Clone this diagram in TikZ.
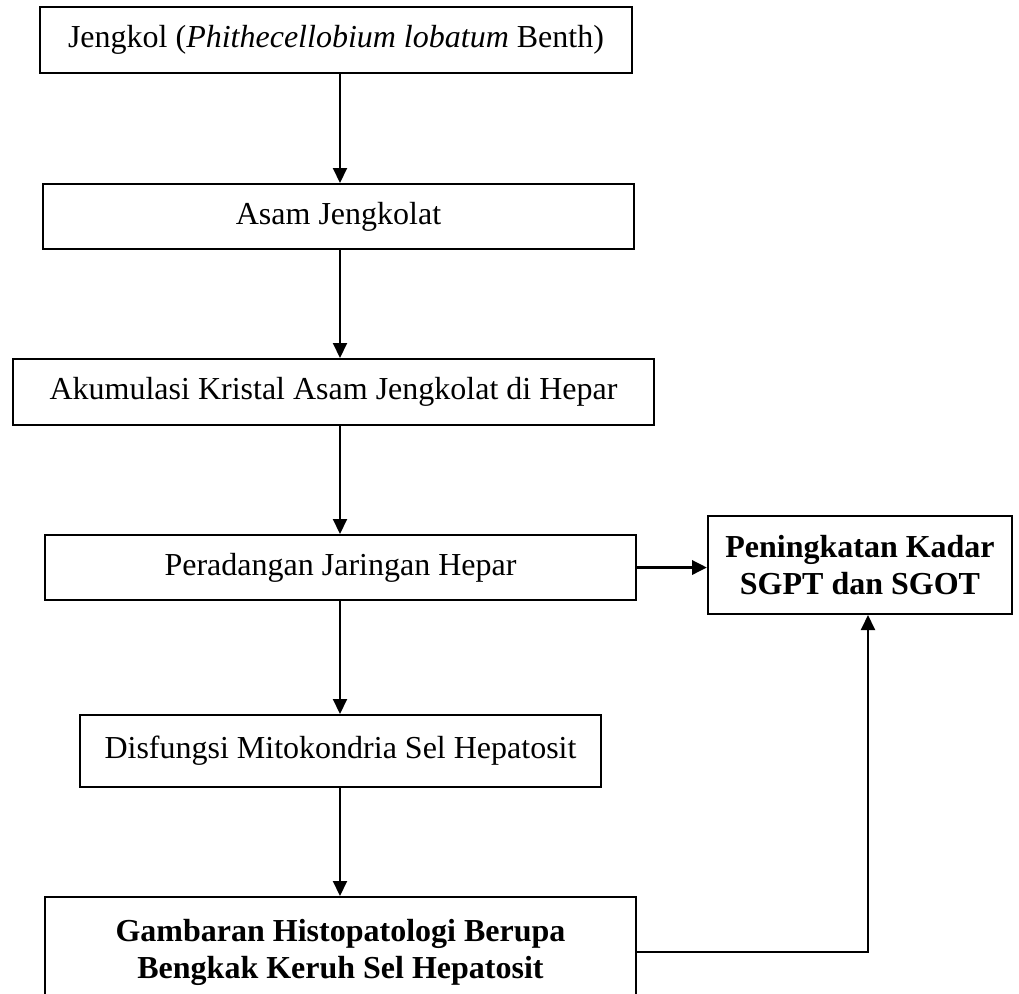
\documentclass[tikz,border=0pt]{standalone}
\usepackage{fontspec}
\setmainfont{Liberation Serif}
\usepackage{tikz}
\usetikzlibrary{arrows.meta,calc}

\begin{document}
\begin{tikzpicture}[
    x=0.5pt, y=-0.5pt,
    box/.style={draw, line width=1pt, inner sep=0pt, align=center,
      font=\fontsize{16}{18.5}\selectfont},
    bold box/.style={box, font=\fontsize{16}{18.5}\selectfont\bfseries},
    flow/.style={line width=1pt, -{Triangle[length=7.5pt,width=7pt]}},
    thick flow/.style={flow, line width=1.7pt},
  ]
  \useasboundingbox (0,0) rectangle (1019,993);
  \coordinate (spine) at (340,0);

  \node[box, minimum width=296pt, minimum height=33pt] (jengkol) at (336,40)
    {Jengkol (\textit{Phithecellobium lobatum} Benth)};
  \node[box, minimum width=295.5pt, minimum height=32.5pt] (asam) at (338.5,216.5)
    {Asam Jengkolat};
  \node[box, minimum width=320.5pt, minimum height=33pt] (kristal) at (333.5,392)
    {Akumulasi Kristal Asam Jengkolat di Hepar};
  \node[box, minimum width=295.5pt, minimum height=32.5pt] (radang) at (340.5,567.5)
    {Peradangan Jaringan Hepar};
  \node[bold box, minimum width=152pt, minimum height=49pt] (kadar) at (860,565)
    {Peningkatan Kadar\\SGPT dan SGOT};
  \node[box, minimum width=260.5pt, minimum height=36pt] (mito) at (340.5,751)
    {Disfungsi Mitokondria Sel Hepatosit};
  \node[bold box, minimum width=295.5pt, minimum height=55pt] (histo) at (340.5,952)
    {Gambaran Histopatologi Berupa\\Bengkak Keruh Sel Hepatosit};

  \draw[flow] (spine |- jengkol.south) -- (spine |- asam.north);
  \draw[flow] (spine |- asam.south) -- (spine |- kristal.north);
  \draw[flow] (spine |- kristal.south) -- (spine |- radang.north);
  \draw[flow] (spine |- radang.south) -- (spine |- mito.north);
  \draw[flow] (spine |- mito.south) -- (spine |- histo.north);
  \draw[thick flow] (radang.east) -- (radang.east -| kadar.west);
  \draw[flow] (histo.east) -| ([xshift=4pt]kadar.south);
\end{tikzpicture}
\end{document}
